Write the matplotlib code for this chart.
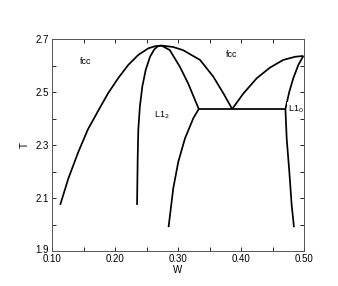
import numpy as np
import matplotlib
matplotlib.use('Agg')
import matplotlib.pyplot as plt
import matplotlib.transforms as mtransforms
from matplotlib.ticker import MultipleLocator

plt.rcParams['font.family'] = ['Liberation Sans', 'DejaVu Sans']

# phase boundaries (W, T)
fcc_left_W = [0.113, 0.126, 0.142, 0.157, 0.174, 0.189, 0.205, 0.221,
              0.237, 0.253, 0.264, 0.274]
fcc_left_T = [2.074, 2.174, 2.275, 2.359, 2.432, 2.495, 2.552, 2.602,
              2.640, 2.665, 2.673, 2.675]

l12_left_W = [0.235, 0.236, 0.237, 0.2395, 0.2433, 0.2487, 0.2556,
              0.2624, 0.2687, 0.274]
l12_left_T = [2.074, 2.250, 2.359, 2.445, 2.520, 2.583, 2.633,
              2.661, 2.674, 2.675]

fcc_mid_W = [0.274, 0.292, 0.308, 0.335, 0.356, 0.372, 0.386]
fcc_mid_T = [2.675, 2.670, 2.658, 2.621, 2.558, 2.495, 2.436]

l12_right_W = [0.274, 0.287, 0.303, 0.316, 0.327, 0.333]
l12_right_T = [2.675, 2.658, 2.595, 2.533, 2.470, 2.436]

l12_low_W = [0.285, 0.2925, 0.3005, 0.3111, 0.3243, 0.333]
l12_low_T = [1.990, 2.137, 2.237, 2.325, 2.401, 2.436]

fcc_right_W = [0.386, 0.404, 0.425, 0.446, 0.467, 0.486, 0.499]
fcc_right_T = [2.436, 2.495, 2.552, 2.592, 2.621, 2.633, 2.636]

l10_W = [0.499, 0.491, 0.483, 0.4767, 0.4705, 0.4725, 0.4767, 0.4804, 0.4841]
l10_T = [2.636, 2.602, 2.552, 2.501, 2.436, 2.325, 2.199, 2.074, 1.990]

tie_W = [0.333, 0.4705]
tie_T = [2.436, 2.436]

fig = plt.figure(figsize=(3.38, 2.86), dpi=100)
ax = fig.add_axes([52/338, 1 - 251/286, 252/338, 212/286])

for w, t in [(fcc_left_W, fcc_left_T), (l12_left_W, l12_left_T),
             (fcc_mid_W, fcc_mid_T), (l12_right_W, l12_right_T),
             (l12_low_W, l12_low_T), (fcc_right_W, fcc_right_T),
             (l10_W, l10_T), (tie_W, tie_T)]:
    ax.plot(w, t, color='black', lw=1.25, solid_capstyle='butt',
            solid_joinstyle='round')

ax.text(0.153, 2.614, 'fcc', fontsize=6.5, ha='center', va='center')
ax.text(0.385, 2.643, 'fcc', fontsize=6.5, ha='center', va='center')
ax.text(0.275, 2.413, 'L1$_2$', fontsize=6.5, ha='center', va='center')
ax.text(0.487, 2.436, 'L1$_0$', fontsize=6.5, ha='center', va='center',
        bbox=dict(facecolor='white', edgecolor='none', pad=0.5))

ax.set_xlim(0.10, 0.50)
ax.set_ylim(1.9, 2.7)
ax.set_xticks([0.1, 0.2, 0.3, 0.4, 0.5])
ax.set_xticklabels(['0.10', '0.20', '0.30', '0.40', '0.50'])
ax.set_yticks([1.9, 2.1, 2.3, 2.5, 2.7])
ax.xaxis.set_minor_locator(MultipleLocator(0.05))
ax.yaxis.set_minor_locator(MultipleLocator(0.1))
ax.tick_params(which='both', direction='in', top=True, right=True,
               labelsize=7, pad=2, width=0.6, length=3)
for s in ax.spines.values():
    s.set_linewidth(0.7)
    s.set_color('#555555')
# lift the bottom y label a little so it clears 0.10
lab = ax.get_yticklabels()[0]
lab.set_transform(lab.get_transform() +
                  mtransforms.ScaledTranslation(0, 2.5/100, fig.dpi_scale_trans))
ax.set_xlabel('W', fontsize=7, labelpad=1)
ax.set_ylabel('T', fontsize=7, labelpad=4)

fig.savefig('out.png', dpi=100)
